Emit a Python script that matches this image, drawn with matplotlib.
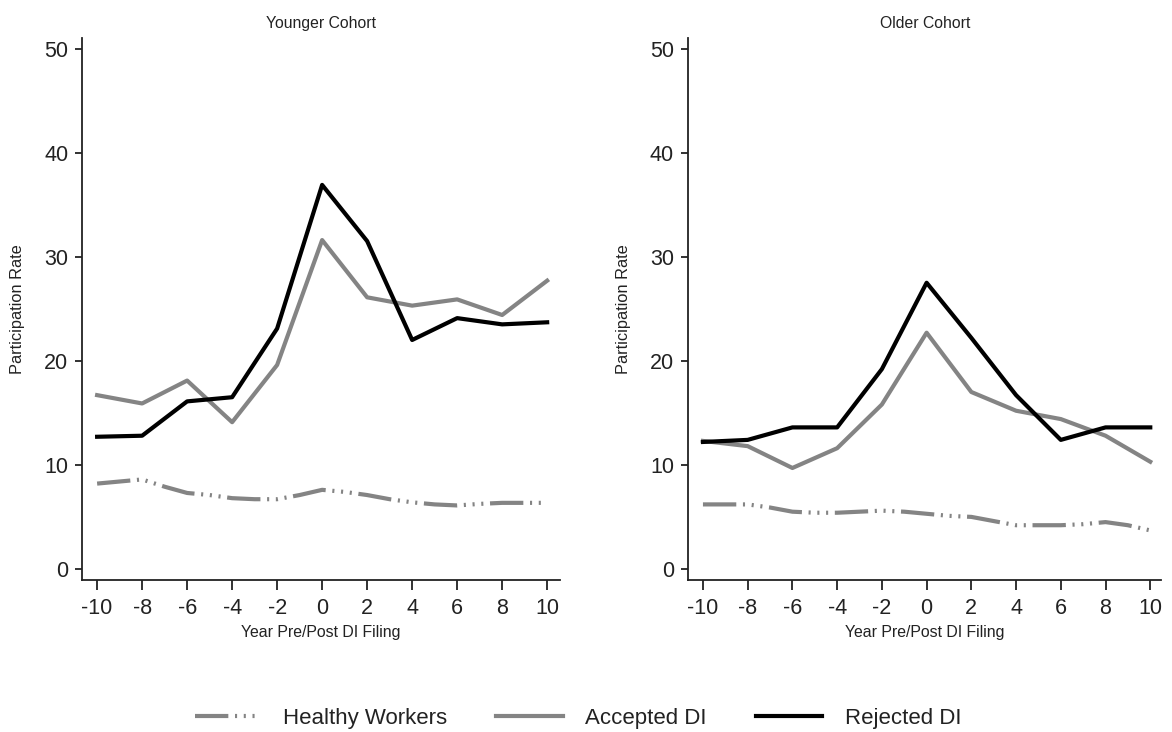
import numpy as np
import matplotlib.pyplot as plt

plt.rcParams['font.family'] = ['Liberation Sans', 'DejaVu Sans']
plt.rcParams['axes.unicode_minus'] = False

# years relative to DI filing
years_even = np.arange(-10, 11, 2)
years_all = np.arange(-10, 11)

# younger cohort
young_healthy = [8.2, 8.4, 8.6, 7.9, 7.3, 7.1, 6.8, 6.7, 6.7, 7.1, 7.6,
                 7.4, 7.1, 6.7, 6.4, 6.2, 6.1, 6.25, 6.35, 6.35, 6.35]
young_accepted = [16.7, 15.9, 18.1, 14.1, 19.6, 31.6, 26.1, 25.3, 25.9, 24.4, 27.7]
young_rejected = [12.7, 12.8, 16.1, 16.5, 23.1, 36.9, 31.5, 22.0, 24.1, 23.5, 23.7]

# older cohort
old_healthy = [6.2, 6.2, 6.2, 5.9, 5.5, 5.4, 5.4, 5.5, 5.6, 5.5, 5.3,
               5.1, 5.0, 4.6, 4.2, 4.2, 4.2, 4.3, 4.5, 4.2, 3.7]
old_accepted = [12.3, 11.8, 9.7, 11.6, 15.8, 22.7, 17.0, 15.2, 14.4, 12.8, 10.3]
old_rejected = [12.2, 12.4, 13.6, 13.6, 19.2, 27.5, 22.2, 16.7, 12.4, 13.6, 13.6]

panels = [
    ('Younger Cohort', young_healthy, young_accepted, young_rejected),
    ('Older Cohort', old_healthy, old_accepted, old_rejected),
]

gray = '#848484'
ink = '#222222'
dash_dots = (0, (8, 1.6, 0.5, 1.6, 0.5, 1.6, 0.5, 1.6))

fig = plt.figure(figsize=(11.72, 7.32), dpi=100)
boxes = [[0.070, 0.2077, 0.408, 0.741], [0.587, 0.2077, 0.404, 0.741]]
xlims = [(-10.67, 10.58), (-10.67, 10.5)]

for box, xl, (title, healthy, accepted, rejected) in zip(boxes, xlims, panels):
    ax = fig.add_axes(box)
    ax.plot(years_all, healthy, color=gray, lw=3, linestyle=dash_dots,
            label='Healthy Workers')
    ax.plot(years_even, accepted, color=gray, lw=3, label='Accepted DI')
    ax.plot(years_even, rejected, color='black', lw=3, label='Rejected DI')
    ax.set_xlim(*xl)
    ax.set_ylim(-1.06, 51.06)
    ax.set_xticks(years_even)
    ax.set_yticks([0, 10, 20, 30, 40, 50])
    for s in ['top', 'right']:
        ax.spines[s].set_visible(False)
    for s in ['left', 'bottom']:
        ax.spines[s].set_linewidth(1.3)
        ax.spines[s].set_color(ink)
    ax.tick_params(axis='x', direction='out', length=7, width=1.3,
                   labelsize=15.5, colors=ink, pad=6)
    ax.tick_params(axis='y', direction='out', length=5, width=1.3,
                   labelsize=15.5, colors=ink, pad=5)
    ax.set_title(title, fontsize=11.3, pad=7, color=ink)
    ax.set_ylabel('Participation Rate', fontsize=11.8, labelpad=14, color=ink)
    ax.set_xlabel('Year Pre/Post DI Filing', fontsize=11.4, labelpad=4, color=ink)

handles, labels = ax.get_legend_handles_labels()
fig.legend(handles, labels, loc='center', bbox_to_anchor=(0.493, 0.019),
           ncol=3, frameon=False, fontsize=16, handlelength=3.0,
           handletextpad=1.0, columnspacing=2.2, labelcolor=ink)

fig.savefig('out.png', dpi=100)
